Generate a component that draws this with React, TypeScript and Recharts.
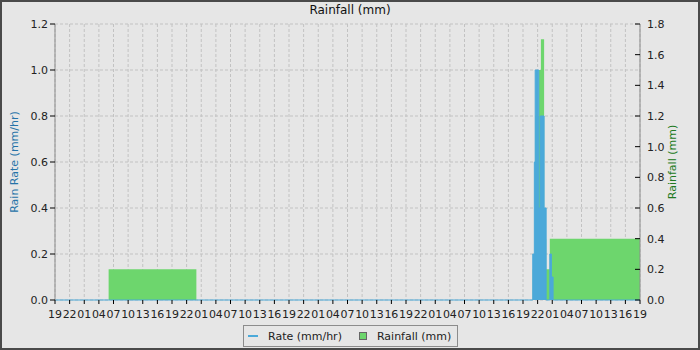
import React from 'react';
import { ComposedChart, Area, XAxis, YAxis, CartesianGrid, Legend } from 'recharts';

// time in hours since 19:00 on the first day
const hours = [0, 11, 29, 98, 98.33, 98.5, 99.25, 99.5, 99.67, 100.33, 100.75, 101.5, 101.83, 102.17, 120];
const rateValues = [0, 0, 0, 0.2, 0.6, 1.0, 0.4, 0.8, 0.8, 0.4, 0, 0.2, 0.1, 0, 0];
const rainValues = [0, 0.2, 0, 0.2, 0.2, 1.2, 1.5, 1.5, 1.7, 0.4, 0.2, 0.4, 0.4, 0.4, 0.4];

const hourLabels = [
  '19', '22', '01', '04', '07', '10', '13', '16',
  '19', '22', '01', '04', '07', '10', '13', '16',
  '19', '22', '01', '04', '07', '10', '13', '16',
  '19', '22', '01', '04', '07', '10', '13', '16',
  '19', '22', '01', '04', '07', '10', '13', '16',
  '19',
];
const rateTicks = [0, 0.2, 0.4, 0.6, 0.8, 1.0, 1.2];
const rateMinorTicks = [0.1, 0.3, 0.5, 0.7, 0.9, 1.1];
const rainTicks = [0, 0.2, 0.4, 0.6, 0.8, 1.0, 1.2, 1.4, 1.6, 1.8];
const rainMinorTicks = [0.1, 0.3, 0.5, 0.7, 0.9, 1.1, 1.3, 1.5, 1.7];

const BLUE = '#4ba9d9';
const GREEN = '#6dd66d';
const BG = '#e6e6e6';

const data = hours.map((h, i) => ({ h, rate: rateValues[i], rain: rainValues[i] }));
const majorTicks = hourLabels.map((_, i) => i * 3);
const minorTicks = Array.from({ length: 121 }, (_, i) => i);

const tickStyle = { fontSize: 11, fill: '#222' };

const LegendBox = ({ payload }: any) => {
  const items = [...(payload || [])].sort((a: any) => (a.dataKey === 'rate' ? -1 : 1));
  return (
    <div style={{
      boxSizing: 'border-box', width: 215, height: 22, border: '1px solid #8c8c8c', background: BG,
      display: 'flex', alignItems: 'center', fontSize: 11, color: '#222', paddingLeft: 4, whiteSpace: 'nowrap',
    }}>
      {items.map((p: any) => (
        <div key={p.dataKey} style={{ display: 'flex', alignItems: 'center', flexShrink: 0, marginRight: 17 }}>
          {p.dataKey === 'rate' ? (
            <span style={{ display: 'inline-block', width: 10, height: 2, background: BLUE, marginRight: 10 }} />
          ) : (
            <span style={{ display: 'inline-block', width: 6, height: 6, background: GREEN, border: '1px solid #666', marginRight: 10 }} />
          )}
          <span>{p.value}</span>
        </div>
      ))}
    </div>
  );
};

export default function App() {
  return (
    <div style={{ position: 'relative', width: 700, height: 350, background: BG, fontFamily: 'DejaVu Sans' }}>
      <style>{'body{margin:0}'}</style>
      <div style={{ position: 'absolute', top: 3, left: 0, width: 700, textAlign: 'center', fontSize: 12, color: '#111' }}>
        Rainfall (mm)
      </div>
      <ComposedChart width={700} height={350} data={data} margin={{ top: 24, right: 0, bottom: 20, left: 0 }}>
        <CartesianGrid xAxisId="time" yAxisId="rate" stroke="#c2c2c2" strokeDasharray="3 2"
          verticalValues={majorTicks} horizontalValues={rateTicks} />
        <XAxis xAxisId="minor" type="number" dataKey="h" domain={[0, 120]} ticks={minorTicks} interval={0}
          tick={false} tickSize={4} axisLine={false} height={0} tickLine={{ stroke: '#000' }} />
        <XAxis xAxisId="time" type="number" dataKey="h" domain={[0, 120]} ticks={majorTicks} interval={0}
          tickFormatter={(v: number) => hourLabels[Math.round(v / 3)]} tickSize={4} tickMargin={6} height={30}
          axisLine={false} tickLine={{ stroke: '#000' }} tick={tickStyle} />
        <XAxis xAxisId="top" orientation="top" type="number" dataKey="h" domain={[0, 120]}
          tick={false} tickLine={false} height={0} axisLine={{ stroke: '#8c8c8c' }} />
        <YAxis yAxisId="rateMinor" domain={[0, 1.2]} ticks={rateMinorTicks} interval={0} tick={false}
          tickSize={3} width={0} axisLine={false} tickLine={{ stroke: '#000' }} />
        <YAxis yAxisId="rate" domain={[0, 1.2]} ticks={rateTicks} interval={0} width={55}
          tickFormatter={(v: number) => v.toFixed(1)} tickSize={5} tickMargin={2}
          axisLine={{ stroke: '#8c8c8c' }} tickLine={{ stroke: '#000' }} tick={tickStyle}
          label={{ value: 'Rain Rate (mm/hr)', angle: -90, position: 'center', dx: -13, fill: '#2573a8', fontSize: 11 }} />
        <YAxis yAxisId="rainMinor" orientation="right" domain={[0, 1.8]} ticks={rainMinorTicks} interval={0}
          tick={false} tickSize={-3} width={0} axisLine={false} tickLine={{ stroke: '#000' }} />
        <YAxis yAxisId="rain" orientation="right" domain={[0, 1.8]} ticks={rainTicks} interval={0} width={60}
          tickFormatter={(v: number) => v.toFixed(1)} tickSize={-5} tickMargin={12}
          axisLine={{ stroke: '#8c8c8c' }} tickLine={{ stroke: '#000' }} tick={tickStyle}
          label={{ value: 'Rainfall (mm)', angle: -90, position: 'center', dx: 2, fill: '#217a21', fontSize: 11 }} />
        <Area xAxisId="time" yAxisId="rain" type="stepAfter" dataKey="rain" name="Rainfall (mm)"
          stroke="none" fill={GREEN} fillOpacity={1} dot={false} activeDot={false} isAnimationActive={false} />
        <Area xAxisId="time" yAxisId="rate" type="stepAfter" dataKey="rate" name="Rate (mm/hr)"
          stroke={BLUE} strokeWidth={1} fill={BLUE} fillOpacity={1} dot={false} activeDot={false} isAnimationActive={false} />
        <Legend layout="horizontal" verticalAlign="middle" align="center" content={<LegendBox />}
          wrapperStyle={{ left: 243, top: 325, width: 215, height: 22 }} />
      </ComposedChart>
      <div style={{ position: 'absolute', inset: 0, border: '2px solid #4a4a4a', boxSizing: 'border-box', pointerEvents: 'none' }} />
    </div>
  );
}
